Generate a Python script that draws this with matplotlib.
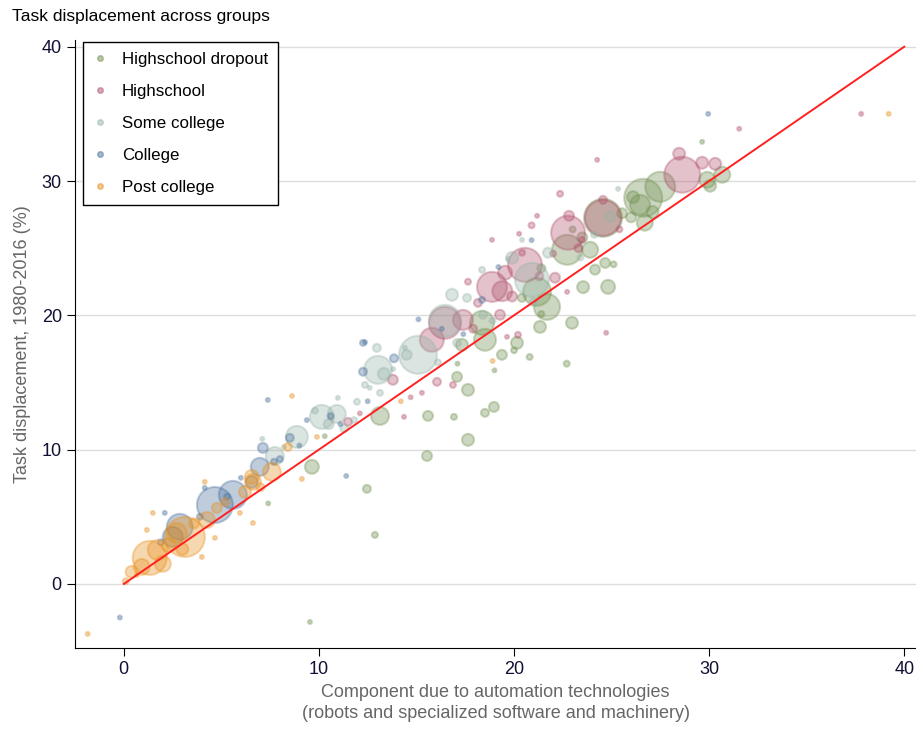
import matplotlib
matplotlib.use("Agg")
import matplotlib.pyplot as plt
from matplotlib.lines import Line2D

plt.rcParams['font.family'] = ['Liberation Sans', 'DejaVu Sans']

# groups: x = automation component, y = task displacement, r = bubble size (relative)
groups = ["Highschool dropout", "Highschool", "Some college", "College", "Post college"]
colors = ["#6f8f4f", "#b0506a", "#97b3a8", "#4a6f9c", "#e8901e"]

drop_x = [24.56, 26.62, 27.49, 26.46, 29.9, 30.67, 30.05, 22.72, 21.18, 21.69, 18.36, 18.51, 17.33,
          24.82, 22.97, 21.33, 19.38, 20.15, 17.08, 17.64, 18.97, 18.51, 16.92, 15.59, 17.64, 15.54,
          13.13, 9.64, 12.46, 12.87, 9.54, 29.64, 23.9, 24.67, 24.15, 23.54, 25.1, 26.1, 26.0, 26.7,
          27.1, 25.54, 23.5, 23.0, 21.4, 20.4, 20.0, 20.8, 22.7, 7.4, 10.3, 17.1, 19.0, 21.4]
drop_y = [27.26, 28.75, 29.57, 28.23, 30.09, 30.47, 29.65, 24.88, 21.75, 20.63, 19.44, 18.18, 17.8,
          22.12, 19.44, 19.14, 17.06, 17.95, 15.42, 14.45, 13.18, 12.74, 12.44, 12.51, 10.73, 9.53,
          12.51, 8.72, 7.08, 3.65, -2.83, 32.92, 24.88, 23.9, 23.4, 22.1, 23.8, 28.8, 27.3, 26.9,
          27.7, 27.6, 25.8, 26.4, 23.5, 21.3, 17.4, 16.9, 16.4, 6.0, 11.0, 16.4, 15.9, 20.1]
drop_r = [19, 19, 15, 10, 8, 8, 6, 15, 14, 13, 12, 11, 6,
          7, 6, 6, 5, 6, 5, 6, 5, 4, 3, 5, 6, 5,
          9, 7, 4, 3, 2, 2, 8, 5, 5, 6, 3, 6, 5, 8,
          6, 5, 5, 3, 4, 4, 3, 3, 3, 2, 2, 2, 2, 3]

hs_x = [28.62, 28.46, 29.64, 30.31, 24.56, 22.77, 22.82, 20.56, 19.54, 18.87, 19.4, 16.46, 17.38,
        15.79, 13.79, 11.49, 24.56, 22.36, 21.18, 20.26, 24.26, 31.54, 37.79, 24.72, 16.05, 16.87,
        14.36, 19.64, 20.2, 19.28, 18.15, 17.64, 18.87, 20.41, 22.1, 23.49, 22.72, 15.28, 23.3,
        21.3, 19.9, 17.9, 12.1, 14.7, 22.0, 25.4, 20.9]
hs_y = [30.47, 32.03, 31.36, 31.28, 27.26, 26.15, 27.41, 23.76, 23.17, 22.12, 21.8, 19.44, 19.66,
        18.18, 15.2, 12.07, 28.6, 29.05, 27.41, 26.07, 31.58, 33.89, 35.0, 18.7, 15.05, 14.82,
        12.44, 18.4, 18.55, 20.04, 20.93, 22.5, 25.62, 24.66, 22.8, 25.62, 21.75, 14.23, 25.0,
        22.9, 21.4, 19.0, 12.7, 13.9, 24.6, 26.4, 26.7]
hs_r = [18, 6, 6, 6, 18, 17, 5, 17, 7, 15, 10, 16, 10,
        12, 5, 4, 4, 3, 2, 2, 2, 2, 2, 2, 4, 3,
        2, 2, 3, 5, 4, 3, 2, 3, 5, 3, 2, 2, 4,
        4, 5, 4, 2, 2, 3, 3, 3]

sc_x = [15.08, 13.03, 13.33, 12.97, 10.15, 10.92, 8.87, 7.74, 16.46, 16.82, 17.59, 14.5, 17.08,
        18.41, 19.9, 20.92, 21.74, 24.92, 25.33, 12.36, 13.13, 10.97, 11.95, 18.36, 20.41, 14.4,
        10.5, 11.3, 9.8, 8.2, 7.1, 16.1, 18.9, 21.0, 23.4, 24.1, 13.8, 12.6, 11.8, 19.7]
sc_y = [17.06, 15.94, 15.64, 17.58, 12.44, 12.66, 10.95, 9.53, 19.59, 21.53, 21.3, 17.06, 17.95,
        20.04, 24.28, 22.64, 24.66, 27.34, 29.42, 14.82, 14.23, 13.85, 13.56, 23.39, 25.62, 17.58,
        11.9, 11.6, 12.9, 10.2, 10.8, 16.5, 19.6, 21.0, 24.3, 26.0, 16.0, 14.6, 12.2, 24.2]
sc_r = [19, 14, 6, 4, 12, 9, 11, 9, 16, 6, 4, 5, 4,
        4, 6, 17, 5, 5, 2, 3, 3, 2, 3, 3, 2, 2,
        5, 4, 3, 2, 2, 3, 3, 4, 3, 3, 2, 2, 3, 2]

col_x = [7.13, 6.97, 6.56, 5.59, 4.67, 2.87, 2.51, 8.51, 2.1, 4.15, 9.38, 12.26, 13.85, 12.36,
         7.38, 11.4, 12.5, 12.26, 18.36, 15.1, 20.9, 19.2, 29.95, -0.2, 8.0, 9.0, 10.6, 11.1,
         5.3, 3.9, 6.0, 1.9, 7.7, 16.3, 17.4]
col_y = [10.13, 8.72, 7.6, 6.63, 5.88, 4.25, 3.5, 10.88, 5.29, 7.15, 12.2, 15.8, 16.8, 18.0,
         13.7, 8.04, 13.6, 17.95, 21.15, 19.7, 25.6, 23.6, 35.0, -2.5, 9.3, 10.3, 12.5, 11.9,
         6.5, 5.0, 7.9, 3.1, 9.1, 19.0, 18.6]
col_r = [5, 9, 6, 14, 18, 13, 10, 4, 2, 2, 2, 4, 4, 2,
         2, 2, 2, 3, 3, 2, 2, 2, 2, 2, 3, 2, 3, 2,
         3, 3, 2, 3, 3, 2, 2]

pc_x = [1.33, 0.92, 1.74, 3.13, 2.72, 4.26, 4.77, 6.21, 6.62, 7.59, 6.56, 8.41, 1.49, 1.18, 4.15,
        4.0, 4.67, 6.62, 0.67, 5.95, 8.62, 9.9, 14.2, 18.9, 9.13, -1.85, 39.2, 0.4, 2.3, 3.6,
        5.2, 2.0, 0.1, 7.0, 3.0]
pc_y = [1.94, 1.27, 2.53, 3.5, 3.8, 4.77, 5.66, 6.85, 7.6, 8.34, 7.97, 10.2, 5.29, 4.02, 7.6,
        2.01, 3.43, 4.54, 0.67, 5.29, 14.0, 10.95, 13.6, 16.6, 7.82, -3.72, 35.0, 0.9, 2.9, 4.5,
        6.1, 1.5, 0.2, 7.2, 2.6]
pc_r = [17, 8, 10, 20, 10, 8, 5, 6, 8, 9, 7, 4, 2, 2, 2,
        2, 2, 2, 2, 2, 2, 2, 2, 2, 2, 2, 2, 6, 7, 5,
        4, 8, 3, 4, 6]

series = [(drop_x, drop_y, drop_r), (hs_x, hs_y, hs_r), (sc_x, sc_y, sc_r),
          (col_x, col_y, col_r), (pc_x, pc_y, pc_r)]


def bubble_size(r):
    # radius in pixels at 100 dpi -> marker area in points^2
    return [(2 * v * 0.72) ** 2 for v in r]


fig = plt.figure(figsize=(9.16, 7.29), dpi=100)
ax = fig.add_axes([75 / 916, 81 / 729, 841 / 916, 608 / 729])

for (x, y, r), c in zip(series, colors):
    ax.scatter(x, y, s=bubble_size(r), facecolor=c, edgecolor=c, alpha=0.35,
               linewidths=1.5, zorder=3)

ax.plot([0, 40], [0, 40], color="#ff2020", lw=1.4, zorder=4)

ax.set_xlim(-2.5, 40.6)
ax.set_ylim(-4.77, 40.5)
ax.set_xticks([0, 10, 20, 30, 40])
ax.set_yticks([0, 10, 20, 30, 40])
ax.grid(axis="y", color="#dddddd", lw=1)
ax.set_axisbelow(True)
for s in ["top", "right"]:
    ax.spines[s].set_visible(False)
ax.tick_params(labelsize=13, length=6, colors="black", labelcolor="#111133")

ax.set_xlabel("Component due to automation technologies\n(robots and specialized software and machinery)",
              fontsize=13, color="#666666", labelpad=4, linespacing=1.3)
ax.set_ylabel("Task displacement, 1980-2016 (%)", fontsize=13, color="#666666", labelpad=8)
fig.text(12 / 916, 1 - 17 / 729, "Task displacement across groups", fontsize=12.5,
         ha="left", va="center")

handles = [Line2D([], [], marker="o", ls="", color=c, alpha=0.5, markersize=4) for c in colors]
leg = ax.legend(handles, groups, loc="upper left", bbox_to_anchor=(8 / 841, 1 - 2 / 608),
                borderaxespad=0, fontsize=12.2, frameon=True, fancybox=False,
                edgecolor="black", framealpha=1, handlelength=0.8, handletextpad=0.9,
                labelspacing=1.0, borderpad=0.6)
leg.get_frame().set_linewidth(1.0)

fig.savefig("out.png", dpi=100)
